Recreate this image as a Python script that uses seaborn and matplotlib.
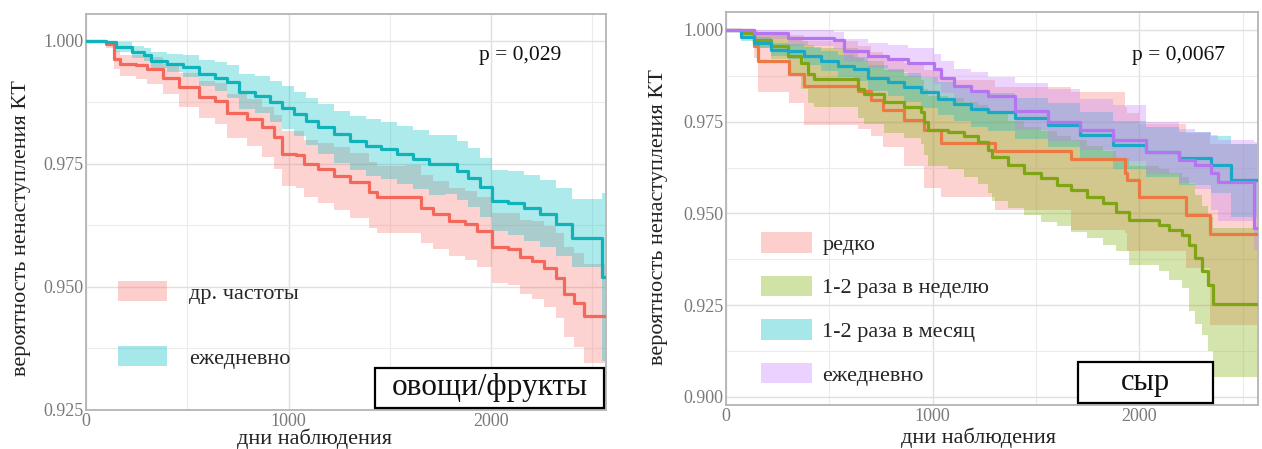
import numpy as np
import pandas as pd
import matplotlib
matplotlib.use("Agg")
import matplotlib.pyplot as plt
from matplotlib.patches import Patch, Rectangle
import seaborn as sns

# ---------------- овощи/фрукты ----------------
veg_labels = ["др. частоты", "ежедневно"]
veg_fill = ["#F8766D", "#00BFC4"]
veg_line = ["#F4675B", "#10B3BA"]

veg_other_t = [0, 100, 137, 166, 245, 303, 382, 460, 558, 636, 695, 793, 871, 930, 969,
               1037, 1076, 1145, 1223, 1301, 1399, 1438, 1575, 1654, 1712, 1791, 1869, 1928,
               2006, 2084, 2143, 2202, 2260, 2319, 2358, 2407, 2456, 2560]
veg_other_s = [1.0, 0.9993, 0.9963, 0.9953, 0.995, 0.9942, 0.9925, 0.9905, 0.9885, 0.9878,
               0.9854, 0.9841, 0.9824, 0.9804, 0.977, 0.9768, 0.9749, 0.9739, 0.9726, 0.9712,
               0.9692, 0.9682, 0.9682, 0.9661, 0.9648, 0.9634, 0.9627, 0.9614, 0.958, 0.9577,
               0.956, 0.9553, 0.9539, 0.9519, 0.9485, 0.9468, 0.9441, 0.9441]
veg_other_lo = [1.0, 0.9985, 0.9943, 0.9929, 0.9923, 0.9912, 0.9892, 0.9866, 0.9843, 0.9830,
                0.9802, 0.9785, 0.9763, 0.9740, 0.9705, 0.9700, 0.9682, 0.9670, 0.9656, 0.9640,
                0.9620, 0.9610, 0.9610, 0.9590, 0.9576, 0.9562, 0.9555, 0.9541, 0.9508, 0.9504,
                0.9485, 0.9476, 0.9460, 0.9437, 0.9399, 0.9378, 0.9346, 0.9346]
veg_other_hi = [1.0, 0.9998, 0.9978, 0.9970, 0.9970, 0.9966, 0.9953, 0.9935, 0.9917, 0.9913,
                0.9892, 0.9881, 0.9866, 0.9848, 0.9816, 0.9816, 0.9799, 0.9792, 0.9783, 0.9772,
                0.9754, 0.9745, 0.9748, 0.9727, 0.9715, 0.9701, 0.9694, 0.9682, 0.9650, 0.9650,
                0.9636, 0.9633, 0.9624, 0.9609, 0.9580, 0.9568, 0.9546, 0.9546]

veg_daily_t = [0, 100, 147, 225, 284, 323, 401, 479, 558, 636, 695, 753, 832, 910, 969, 1027,
               1086, 1145, 1223, 1301, 1380, 1458, 1536, 1614, 1693, 1771, 1830, 1888, 1947,
               2006, 2084, 2163, 2241, 2319, 2397, 2548, 2560]
veg_daily_s = [1.0, 0.9997, 0.9986, 0.9976, 0.997, 0.9959, 0.9953, 0.9946, 0.9932, 0.9925,
               0.9915, 0.9895, 0.9888, 0.9875, 0.9864, 0.9851, 0.9837, 0.9824, 0.981, 0.9797,
               0.9787, 0.978, 0.977, 0.976, 0.9749, 0.9749, 0.9736, 0.9722, 0.9702, 0.9675,
               0.9671, 0.9661, 0.9648, 0.9627, 0.96, 0.952, 0.952]
veg_daily_lo = [1.0, 0.9990, 0.9976, 0.9964, 0.9958, 0.9945, 0.9937, 0.9926, 0.9908, 0.9897,
                0.9884, 0.9862, 0.9853, 0.9835, 0.9821, 0.9806, 0.9788, 0.9770, 0.9752, 0.9737,
                0.9726, 0.9718, 0.9708, 0.9698, 0.9687, 0.9688, 0.9676, 0.9662, 0.9642, 0.9613,
                0.9606, 0.9594, 0.9580, 0.9562, 0.9540, 0.935, 0.935]
veg_daily_hi = [1.0, 1.0, 0.9998, 0.9990, 0.9985, 0.9976, 0.9972, 0.9971, 0.9960, 0.9957,
                0.9950, 0.9933, 0.9928, 0.9917, 0.9908, 0.9896, 0.9883, 0.9871, 0.9858, 0.9847,
                0.9840, 0.9835, 0.9827, 0.9818, 0.9808, 0.9808, 0.9796, 0.9782, 0.9762, 0.9737,
                0.9735, 0.9728, 0.9716, 0.9700, 0.9678, 0.969, 0.969]

veg_p = "p = 0,029"
veg_title = "овощи/фрукты"

# ---------------- сыр ----------------
cheese_labels = ["редко", "1-2 раза в неделю", "1-2 раза в месяц", "ежедневно"]
cheese_fill = ["#F8766D", "#7CAE00", "#00BFC4", "#C77CFF"]
cheese_line = ["#EC7843", "#7FA414", "#18A9C6", "#B574F0"]

rare_t = [0, 137, 155, 306, 375, 637, 700, 760, 860, 960, 1040, 1300, 1667, 1929, 1940,
          2000, 2225, 2340, 2568]
rare_s = [1.0, 0.9955, 0.9915, 0.988, 0.9848, 0.9834, 0.9808, 0.9782, 0.9755, 0.9728,
          0.9693, 0.9670, 0.9648, 0.961, 0.9590, 0.9546, 0.9496, 0.9444, 0.9444]
rare_lo = [1.0, 0.9925, 0.983, 0.980, 0.974, 0.973, 0.971, 0.968, 0.963, 0.957, 0.9545,
           0.951, 0.9455, 0.9446, 0.9397, 0.9397, 0.935, 0.9197, 0.9197]
rare_hi = [1.0, 1.0, 0.9995, 0.9985, 0.997, 0.9955, 0.994, 0.9925, 0.991, 0.989, 0.9865,
           0.9845, 0.983, 0.979, 0.9775, 0.9745, 0.972, 0.969, 0.969]

weekly_t = [0, 73, 137, 218, 298, 363, 395, 427, 637, 669, 766, 863, 944, 960, 976, 1073,
            1153, 1218, 1266, 1286, 1365, 1444, 1524, 1603, 1667, 1746, 1825, 1889, 1952,
            2095, 2143, 2206, 2238, 2270, 2302, 2333, 2357, 2568]
weekly_s = [1.0, 0.9991, 0.9973, 0.9955, 0.9929, 0.991, 0.988, 0.9866, 0.9839, 0.9826,
            0.9804, 0.979, 0.9777, 0.975, 0.9728, 0.9723, 0.971, 0.9696, 0.9674, 0.9655,
            0.9632, 0.961, 0.9596, 0.9578, 0.9564, 0.9546, 0.9528, 0.9505, 0.9483, 0.9469,
            0.9456, 0.9442, 0.9415, 0.9379, 0.9342, 0.9306, 0.9252, 0.9252]
weekly_lo = [1.0, 0.998, 0.995, 0.992, 0.988, 0.984, 0.980, 0.979, 0.976, 0.9745, 0.972,
             0.9705, 0.969, 0.966, 0.963, 0.962, 0.960, 0.958, 0.9555, 0.9533, 0.9515,
             0.9496, 0.9478, 0.9465, 0.945, 0.9433, 0.9415, 0.9397, 0.936, 0.9342, 0.932,
             0.9297, 0.9234, 0.920, 0.917, 0.9125, 0.9053, 0.9053]
weekly_hi = [1.0, 1.0, 0.9995, 0.999, 0.998, 0.997, 0.996, 0.995, 0.9925, 0.9915, 0.989,
             0.9875, 0.9865, 0.984, 0.982, 0.9815, 0.9805, 0.9795, 0.978, 0.977, 0.9752,
             0.9735, 0.9725, 0.971, 0.970, 0.9685, 0.967, 0.965, 0.963, 0.962, 0.961, 0.960,
             0.958, 0.955, 0.952, 0.949, 0.946, 0.946]

monthly_t = [0, 73, 137, 218, 298, 379, 460, 540, 621, 685, 782, 863, 944, 1024, 1105, 1185,
             1266, 1397, 1556, 1714, 1873, 2032, 2190, 2349, 2444, 2568]
monthly_s = [1.0, 0.9982, 0.9964, 0.9946, 0.9942, 0.9929, 0.9915, 0.9902, 0.9893, 0.987,
             0.9857, 0.9844, 0.983, 0.9813, 0.9799, 0.9786, 0.9777, 0.9759, 0.9741, 0.9714,
             0.9687, 0.9668, 0.965, 0.9632, 0.959, 0.959]
monthly_lo = [1.0, 0.9970, 0.9950, 0.9928, 0.9920, 0.9905, 0.9888, 0.9872, 0.9860, 0.9835,
              0.9820, 0.9805, 0.9788, 0.9768, 0.9752, 0.9736, 0.9725, 0.9703, 0.9682, 0.9652,
              0.9622, 0.9600, 0.9578, 0.9555, 0.949, 0.949]
monthly_hi = [1.0, 0.9994, 0.9980, 0.9965, 0.9963, 0.9953, 0.9942, 0.9932, 0.9926, 0.9905,
              0.9895, 0.9883, 0.9872, 0.9858, 0.9846, 0.9836, 0.9829, 0.9815, 0.9800, 0.9776,
              0.9752, 0.9736, 0.9722, 0.9712, 0.969, 0.969]

daily_t = [0, 137, 298, 524, 573, 685, 782, 879, 1008, 1040, 1105, 1185, 1266, 1400, 1556,
           1714, 1873, 2032, 2190, 2270, 2349, 2381, 2555, 2568]
daily_s = [1.0, 0.9991, 0.9978, 0.9973, 0.9942, 0.9929, 0.992, 0.9911, 0.9893, 0.987, 0.9848,
           0.9835, 0.9821, 0.978, 0.975, 0.9727, 0.970, 0.9668, 0.9646, 0.9632, 0.961, 0.9587,
           0.946, 0.946]
daily_lo = [1.0, 0.9975, 0.9955, 0.9948, 0.9912, 0.9897, 0.9885, 0.9873, 0.9852, 0.9827,
            0.9803, 0.9788, 0.9772, 0.9728, 0.9697, 0.9672, 0.9643, 0.9608, 0.9583, 0.9567,
            0.951, 0.948, 0.940, 0.940]
daily_hi = [1.0, 1.0, 1.0, 0.9995, 0.9975, 0.9965, 0.9958, 0.995, 0.9935, 0.9915, 0.9895,
            0.9885, 0.9872, 0.9855, 0.984, 0.9813, 0.9795, 0.975, 0.973, 0.9722, 0.9714,
            0.970, 0.9696, 0.9696]

cheese_p = "p = 0,0067"
cheese_title = "сыр"


def frame(labels, ts, ss, los, his):
    parts = []
    for lab, t, s, lo, hi in zip(labels, ts, ss, los, his):
        parts.append(pd.DataFrame({"group": lab, "t": t, "s": s, "lo": lo, "hi": hi}))
    return pd.concat(parts, ignore_index=True)


veg_df = frame(veg_labels, [veg_other_t, veg_daily_t], [veg_other_s, veg_daily_s],
               [veg_other_lo, veg_daily_lo], [veg_other_hi, veg_daily_hi])
cheese_df = frame(cheese_labels,
                  [rare_t, weekly_t, monthly_t, daily_t],
                  [rare_s, weekly_s, monthly_s, daily_s],
                  [rare_lo, weekly_lo, monthly_lo, daily_lo],
                  [rare_hi, weekly_hi, monthly_hi, daily_hi])

sns.set_theme(style="white")
plt.rcParams["font.family"] = ["Liberation Serif", "DejaVu Serif"]

fig = plt.figure(figsize=(12.62, 4.49), dpi=100)
ax1 = fig.add_axes([86 / 1262, 39 / 449, 520 / 1262, 396 / 449])
ax2 = fig.add_axes([726 / 1262, 44 / 449, 532 / 1262, 393 / 449])


def km_panel(ax, df, labels, fills, lines, ylim, yticks, yminor, xmax):
    for lab, fc in zip(labels, fills):
        d = df[df["group"] == lab]
        ax.fill_between(d["t"], d["lo"], d["hi"], step="post", color=fc, alpha=0.32,
                        lw=0, zorder=2)
    sns.lineplot(data=df, x="t", y="s", hue="group", hue_order=labels,
                 palette=dict(zip(labels, lines)), drawstyle="steps-post",
                 estimator=None, sort=False, legend=False, lw=2.3, ax=ax, zorder=3)
    ax.set_xlim(0, xmax)
    ax.set_ylim(*ylim)
    ax.set_xticks([0, 1000, 2000])
    ax.set_xticks([500, 1500, 2500], minor=True)
    ax.set_yticks(yticks)
    ax.set_yticklabels([f"{v:.3f}" for v in yticks])
    ax.set_yticks(yminor, minor=True)
    ax.grid(which="major", color="#E0E0E0", lw=1.0, zorder=0)
    ax.grid(which="minor", color="#ECECEC", lw=0.8, zorder=0)
    ax.tick_params(which="both", length=0, labelsize=13, labelcolor="#7A7A7A", pad=2)
    for sp in ax.spines.values():
        sp.set_visible(True)
        sp.set_color("#B4B4B4")
        sp.set_linewidth(1.3)
    ax.set_xlabel("дни наблюдения", fontsize=16, color="#222222")
    ax.set_ylabel("вероятность ненаступления КТ", fontsize=16, color="#222222")
    ax.set_facecolor("white")


km_panel(ax1, veg_df, veg_labels, veg_fill, veg_line, (0.925, 1.0054),
         [0.925, 0.95, 0.975, 1.0], [0.9375, 0.9625, 0.9875], 2567)
km_panel(ax2, cheese_df, cheese_labels, cheese_fill, cheese_line, (0.8978, 1.0049),
         [0.9, 0.925, 0.95, 0.975, 1.0], [0.9125, 0.9375, 0.9625, 0.9875], 2574)

ax1.xaxis.set_label_coords(0.44, -0.046)
ax1.yaxis.set_label_coords(-0.106, 0.46)
ax2.xaxis.set_label_coords(0.474, -0.058)
ax2.yaxis.set_label_coords(-0.109, 0.478)

# legends with filled keys only
h1 = [Patch(facecolor=c, alpha=0.35, lw=0) for c in veg_fill]
ax1.legend(h1, veg_labels, loc="lower left", bbox_to_anchor=(0.032, 0.065), frameon=False,
           fontsize=16, handlelength=2.2, handleheight=1.0, handletextpad=1.0,
           labelspacing=1.9, borderpad=0.2)
h2 = [Patch(facecolor=c, alpha=0.35, lw=0) for c in cheese_fill]
ax2.legend(h2, cheese_labels, loc="lower left", bbox_to_anchor=(0.037, 0.01), frameon=False,
           fontsize=16, handlelength=2.3, handleheight=1.05, handletextpad=0.45,
           labelspacing=0.93, borderpad=0.2)

# p-values
ax1.text(0.835, 0.895, veg_p, transform=ax1.transAxes, ha="center", va="center",
         fontsize=15.5, color="#111111")
ax2.text(0.85, 0.89, cheese_p, transform=ax2.transAxes, ha="center", va="center",
         fontsize=15.5, color="#111111")


def boxed_title(ax, text, x0, x1, y0, y1, size):
    ax.add_patch(Rectangle((x0, y0), x1 - x0, y1 - y0, transform=ax.transAxes,
                           facecolor="white", edgecolor="black", lw=1.6, zorder=5))
    ax.text((x0 + x1) / 2, (y0 + y1) / 2, text, transform=ax.transAxes, ha="center",
            va="center", fontsize=size, color="#111111", zorder=6)


boxed_title(ax1, veg_title, 0.556, 0.997, 0.006, 0.106, 22.5)
boxed_title(ax2, cheese_title, 0.662, 0.915, 0.004, 0.109, 22)

fig.savefig("out.png", dpi=100, facecolor="white")
